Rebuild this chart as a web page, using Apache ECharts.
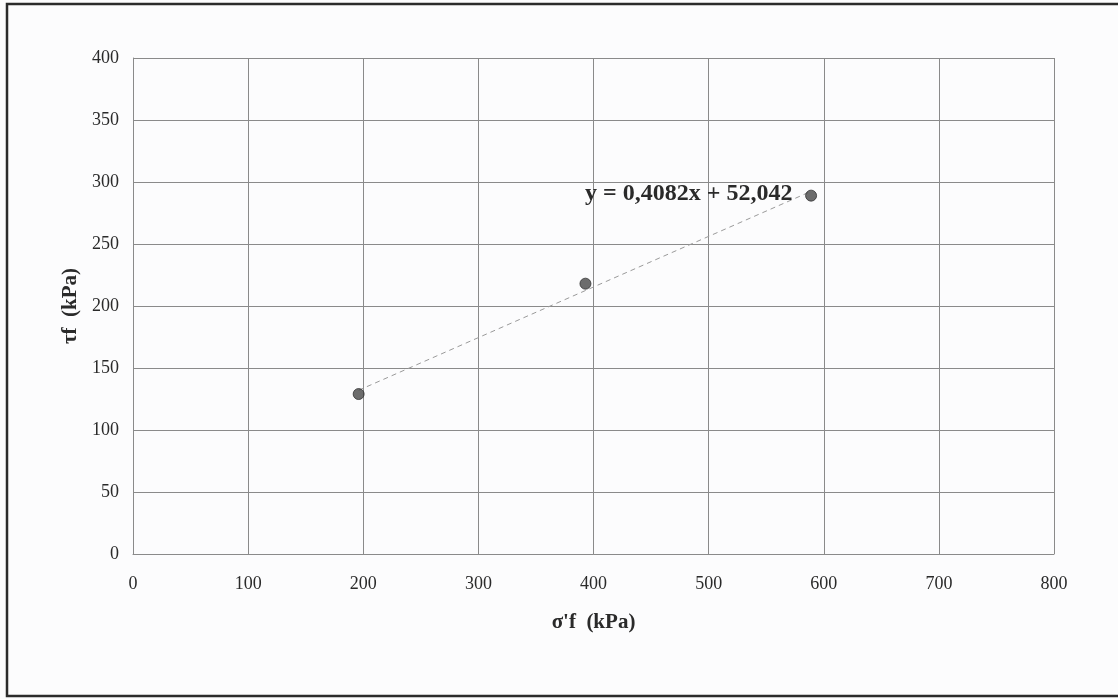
<!DOCTYPE html>
<html>
<head>
<meta charset="utf-8">
<script src="https://cdn.jsdelivr.net/npm/echarts@6/dist/echarts.min.js"></script>
<style>
  html, body { margin: 0; padding: 0; background: #fcfcfd; }
  #chart { width: 1118px; height: 699px; }
</style>
</head>
<body>
<div id="chart"></div>
<script>
// Effective normal stress at failure (kPa) and shear strength at failure (kPa)
const sigmaF = [196, 393, 589];
const tauF = [129, 218, 289];

// Linear trend fitted to the failure points
const trendSlope = 0.4082;
const trendIntercept = 52.042;
const trendLabel = 'y = 0,4082x + 52,042';

const xTicks = { min: 0, max: 800, interval: 100 };
const yTicks = { min: 0, max: 400, interval: 50 };

const points = sigmaF.map((s, i) => [s, tauF[i]]);
const xStart = Math.min(...sigmaF);
const xEnd = Math.max(...sigmaF);
const trend = [
  [xStart, trendSlope * xStart + trendIntercept],
  [xEnd, trendSlope * xEnd + trendIntercept]
];

const serif = '"Liberation Serif", "DejaVu Serif", serif';
const gridColor = '#8a8a8a';

const chart = echarts.init(document.getElementById('chart'), null, { renderer: 'canvas' });
chart.setOption({
  backgroundColor: '#fcfcfd',
  animation: false,
  textStyle: { fontFamily: serif },
  graphic: [{
    type: 'rect',
    shape: { x: 7, y: 4, width: 1130, height: 692 },
    style: { fill: 'none', stroke: '#2b2b2b', lineWidth: 2.5 },
    silent: true
  }],
  grid: { left: 133, right: 64, top: 58, bottom: 145 },
  xAxis: {
    type: 'value',
    min: xTicks.min, max: xTicks.max, interval: xTicks.interval,
    name: "σ'f  (kPa)",
    nameLocation: 'middle',
    nameGap: 58,
    nameTextStyle: { fontFamily: serif, fontSize: 21, fontWeight: 'bold', color: '#2a2a2a' },
    axisLine: { show: true, lineStyle: { color: gridColor, width: 1 } },
    axisTick: { show: false },
    axisLabel: { fontFamily: serif, fontSize: 18, color: '#2a2a2a', margin: 21 },
    splitLine: { show: true, lineStyle: { color: gridColor, width: 1 } }
  },
  yAxis: {
    type: 'value',
    min: yTicks.min, max: yTicks.max, interval: yTicks.interval,
    name: 'τf  (kPa)',
    nameLocation: 'middle',
    nameGap: 52,
    nameRotate: 90,
    nameTextStyle: { fontFamily: serif, fontSize: 21, fontWeight: 'bold', color: '#2a2a2a' },
    axisLine: { show: true, lineStyle: { color: gridColor, width: 1 } },
    axisTick: { show: false },
    axisLabel: { fontFamily: serif, fontSize: 18, color: '#2a2a2a', margin: 14 },
    splitLine: { show: true, lineStyle: { color: gridColor, width: 1 } }
  },
  series: [
    {
      name: 'trend',
      type: 'line',
      data: trend,
      symbol: 'none',
      lineStyle: { color: '#9a9a9a', width: 1, type: [5, 4] },
      z: 2,
      endLabel: {
        show: true,
        formatter: trendLabel,
        position: 'left',
        distance: 16,
        fontFamily: serif,
        fontSize: 24,
        fontWeight: 'bold',
        color: '#2a2a2a',
        offset: [-242, 2]
      }
    },
    {
      name: 'failure',
      type: 'scatter',
      data: points,
      symbol: 'circle',
      symbolSize: 11,
      itemStyle: { color: '#474747', borderColor: '#333', borderWidth: 1 },
      z: 3
    }
  ]
});
</script>
</body>
</html>
